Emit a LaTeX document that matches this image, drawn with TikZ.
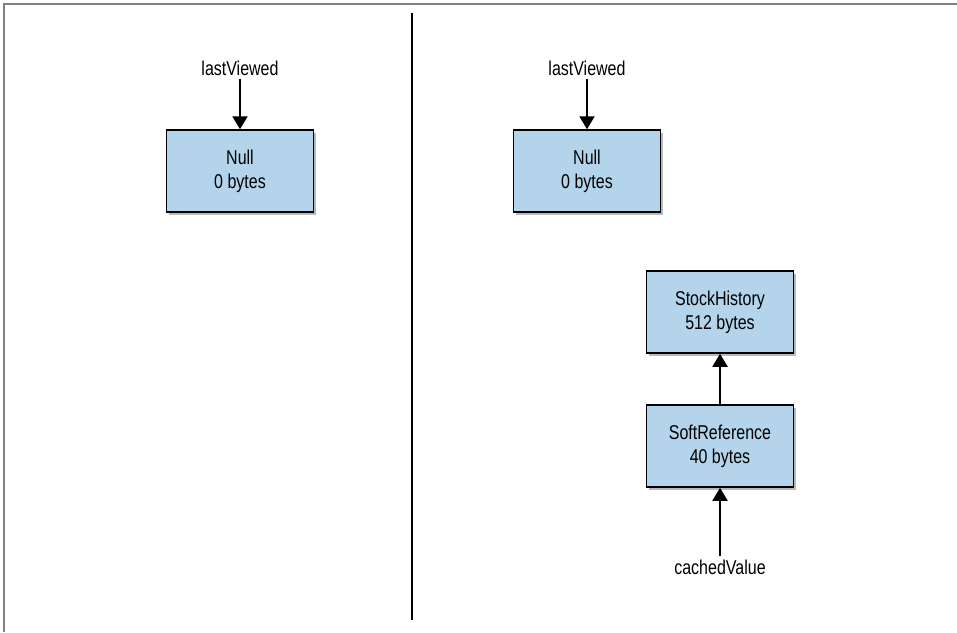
\documentclass[tikz,border=0pt]{standalone}
\usepackage{fontspec}
\setmainfont{Liberation Sans}[FakeStretch=0.8]
\usetikzlibrary{positioning,arrows.meta,shadows}
\definecolor{objblue}{RGB}{179,212,234}
\tikzset{
  obj/.style={draw=black,line width=1.5pt,fill=objblue,minimum width=147pt,
    minimum height=82pt,align=center,font=\fontsize{20}{24}\selectfont,
    drop shadow={shadow xshift=2.5pt,shadow yshift=-2.5pt,opacity=0.55}},
  ref/.style={font=\fontsize{20}{24}\selectfont},
  ptr/.style={line width=2pt,-{Triangle[width=15pt,length=13pt]}}
}
\begin{document}
\begin{tikzpicture}[x=1pt,y=-1pt]
  \useasboundingbox (0,0) rectangle (957,632);
  % frame and divider
  \draw[gray,line width=1.5pt] (4,632) -- (4,4) -- (957,4);
  \draw[line width=2.5pt] (412,13) -- (412,620);
  % left side
  \node[obj] (null1) at (240,171) {Null\\0 bytes};
  \node[ref] (last1) at (240,68) {lastViewed};
  \draw[ptr] (last1) -- (null1);
  % right side
  \node[obj] (null2) at (587,171) {Null\\0 bytes};
  \node[ref] (last2) at (587,68) {lastViewed};
  \draw[ptr] (last2) -- (null2);
  \node[obj] (hist) at (720,312) {StockHistory\\512 bytes};
  \node[obj] (soft) at (720,446) {SoftReference\\40 bytes};
  \node[ref] (cached) at (720,567) {cachedValue};
  \draw[ptr] (soft) -- (hist);
  \draw[ptr] (cached) -- (soft);
\end{tikzpicture}
\end{document}
